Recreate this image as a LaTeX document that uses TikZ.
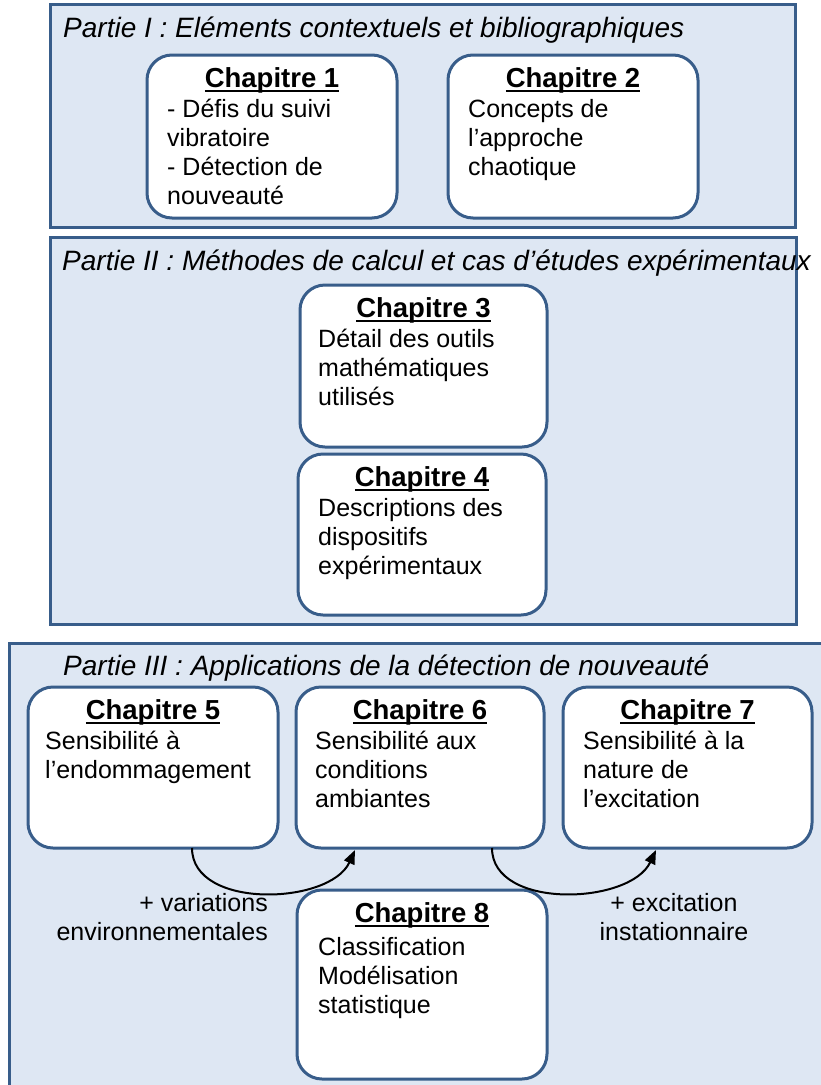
\documentclass[tikz,border=0pt]{standalone}
\usepackage{fontspec}
\setmainfont{Liberation Sans}
\usetikzlibrary{calc,arrows.meta}
\definecolor{partfill}{RGB}{222,231,243}
\definecolor{partline}{RGB}{56,93,138}
\newsavebox\chulbox
\newcommand\chul[1]{\sbox\chulbox{#1}\rlap{\rule[-5pt]{\wd\chulbox}{2pt}}\usebox\chulbox}
\newcommand\fl{\rule{0pt}{19pt}}
\tikzset{
  part/.style={draw=partline, line width=3pt, fill=partfill, inner sep=0pt, outer sep=0pt},
  chbox/.style={draw=partline, line width=3pt, fill=white, rounded corners=25pt, inner sep=0pt, outer sep=0pt},
  chhead/.style={font=\fontsize{27.5}{33}\selectfont\bfseries, anchor=base, inner sep=0pt},
  chbody/.style={font=\fontsize{25}{29.2}\selectfont, align=left, anchor=north west, inner sep=0pt},
  ptitle/.style={font=\fontsize{28}{33}\selectfont\itshape, anchor=base west, inner sep=0pt},
  lbl/.style={font=\fontsize{25}{29}\selectfont, inner sep=0pt},
  arr/.style={-{Triangle[length=14pt,width=11pt]}, line width=2pt, black}
}
\begin{document}
\begin{tikzpicture}[x=1pt,y=-1pt]
\useasboundingbox (0,0) rectangle (821,1085);
\fill[white] (0,0) rectangle (821,1085);

% Parts
\node[part, minimum width=745pt, minimum height=223pt] (p1) at (422.5,115.5) {};
\node[part, minimum width=746pt, minimum height=387pt] (p2) at (423,430.5) {};
\node[part, minimum width=826pt, minimum height=452pt] (p3) at (422,869) {};

\node[ptitle] (t1) at ($(p1.north west)+(13,33)$) {Partie I : Eléments contextuels et bibliographiques};
\node[ptitle] (t2) at ($(p2.north west)+(12,33)$) {Partie II : Méthodes de calcul et cas d’études expérimentaux};
\node[ptitle] (t3) at ($(p3.north west)+(54,32)$) {Partie III : Applications de la détection de nouveauté};

% Chapters
\node[chbox, minimum width=250pt, minimum height=163pt] (ch1) at (272,136.5) {};
\node[chbox, minimum width=250pt, minimum height=163pt] (ch2) at (573,136.5) {};
\node[chbox, minimum width=247pt, minimum height=162pt] (ch3) at (423.5,366) {};
\node[chbox, minimum width=248pt, minimum height=161pt] (ch4) at (422,534.5) {};
\node[chbox, minimum width=250pt, minimum height=161pt] (ch5) at (153,767.5) {};
\node[chbox, minimum width=248pt, minimum height=161pt] (ch6) at (420,767.5) {};
\node[chbox, minimum width=249pt, minimum height=161pt] (ch7) at (687.5,767.5) {};
\node[chbox, minimum width=250pt, minimum height=189pt] (ch8) at (422,984.5) {};

\node[chhead] (h1) at ($(ch1.north)+(0,32)$) {\chul{Chapitre 1}};
\node[chhead] (h2) at ($(ch2.north)+(0,32)$) {\chul{Chapitre 2}};
\node[chhead] (h3) at ($(ch3.north)+(0,32)$) {\chul{Chapitre 3}};
\node[chhead] (h4) at ($(ch4.north)+(0,32)$) {\chul{Chapitre 4}};
\node[chhead] (h5) at ($(ch5.north)+(0,32)$) {\chul{Chapitre 5}};
\node[chhead] (h6) at ($(ch6.north)+(0,32)$) {\chul{Chapitre 6}};
\node[chhead] (h7) at ($(ch7.north)+(0,32)$) {\chul{Chapitre 7}};
\node[chhead] (h8) at ($(ch8.north)+(0,32)$) {\chul{Chapitre 8}};

\node[chbody] (b1) at ($(ch1.north west)+(20,43)$) {\fl- Défis du suivi\\vibratoire\\- Détection de\\nouveauté};
\node[chbody] (b2) at ($(ch2.north west)+(20,43)$) {\fl Concepts de\\l’approche\\chaotique};
\node[chbody] (b3) at ($(ch3.north west)+(18,43)$) {\fl Détail des outils\\mathématiques\\utilisés};
\node[chbody] (b4) at ($(ch4.north west)+(20,43)$) {\fl Descriptions des\\dispositifs\\expérimentaux};
\node[chbody] (b5) at ($(ch5.north west)+(17,43)$) {\fl Sensibilité à\\l’endommagement};
\node[chbody] (b6) at ($(ch6.north west)+(19,43)$) {\fl Sensibilité aux\\conditions\\ambiantes};
\node[chbody] (b7) at ($(ch7.north west)+(20,43)$) {\fl Sensibilité à la\\nature de\\l’excitation};
\node[chbody] (b8) at ($(ch8.north west)+(21,46)$) {\fl Classification\\Modélisation\\statistique};

% Arrows
\draw[arr] ($(ch5.south east)+(-86,0)$) .. controls ($(ch5.south east)+(-86,62)$) and ($(ch6.south west)+(34,57)$) .. ($(ch6.south west)+(59,2)$);
\draw[arr] ($(ch6.south east)+(-52,0)$) .. controls ($(ch6.south east)+(-52,62)$) and ($(ch7.south west)+(67,57)$) .. ($(ch7.south west)+(93,2)$);

\node[lbl, align=right, anchor=north east] (l1) at (268,892) {\fl+ variations\\environnementales};
\node[lbl, align=center, anchor=north] (l2) at (674,892) {\fl+ excitation\\instationnaire};
\end{tikzpicture}
\end{document}
